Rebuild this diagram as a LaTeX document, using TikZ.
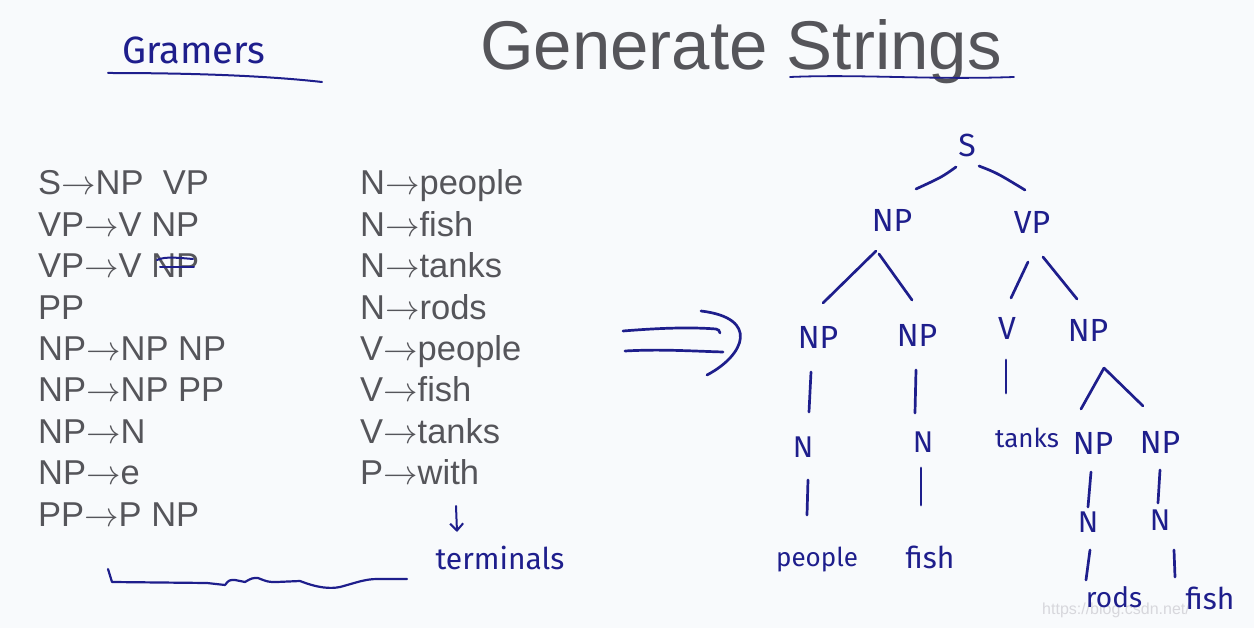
\RequirePackage{fix-cm}
\documentclass[tikz,border=0pt]{standalone}
\usepackage{fontspec}
\setmainfont{Liberation Sans}
\newfontfamily\hand{Fira Sans}
\usetikzlibrary{calc,arrows.meta}
\definecolor{inkblue}{RGB}{30,30,140}
\definecolor{slidegray}{RGB}{85,85,90}
\definecolor{bgc}{RGB}{248,250,252}
\definecolor{wmark}{RGB}{215,215,220}
\newcommand\ra{\ensuremath{\rightarrow}}
\begin{document}
\begin{tikzpicture}[x=1pt,y=-1pt,
  ink/.style={draw=inkblue, line width=2.7pt, line cap=round, line join=round},
  hw/.style={text=inkblue, inner sep=0pt, font=\hand\fontsize{#1}{#1}\selectfont},
  hw/.default=32,
  rulet/.style={text=slidegray, inner sep=0pt, anchor=base west, font=\fontsize{34.5}{40}\selectfont}]
\fill[bgc] (0,0) rectangle (1254,628);
\useasboundingbox (0,0) rectangle (1254,628);

% title
\node[anchor=base west, text=slidegray, inner sep=0pt, font=\fontsize{69}{69}\selectfont] (title) at (480,70) {Generate Strings};
\draw[ink, line width=1.8pt] (790,77) .. controls (860,74) and (930,80) .. (1014,77);

% Gramers heading
\node[hw=38, anchor=base west] (gram) at (122,64) {Gramers};
\draw[ink, line width=2pt] (108,73) .. controls (180,73) and (260,75) .. (322,82);

% grammar rules
\foreach \t [count=\i] in {S\ra NP\ \ VP, VP\ra V NP, VP\ra V NP, PP, NP\ra NP NP, NP\ra NP PP, NP\ra N, NP\ra e, PP\ra P NP}
  \node[rulet] (r\i) at (38,{195+41.4*(\i-1)}) {\t};
\foreach \t [count=\i] in {N\ra people, N\ra fish, N\ra tanks, N\ra rods, V\ra people, V\ra fish, V\ra tanks, P\ra with}
  \node[rulet] (t\i) at (360,{195+41.4*(\i-1)}) {\t};

% strike-through on NP in third rule
\draw[ink, line width=2pt] (157,260) .. controls (165,256) and (180,258) .. (193,259);
\draw[ink, line width=2pt] (160,267) -- (194,267);

% bottom wavy line
\draw[ink, line width=2.2pt] (108,569) -- (112,582) -- (207,583) -- (225,585)
  .. controls (229,580) .. (235,580) -- (245,582) .. controls (252,578) .. (258,578)
  .. controls (268,582) .. (277,582) -- (300,581) .. controls (318,588) and (330,589) .. (340,587)
  .. controls (355,583) and (365,579) .. (377,579) -- (407,579);

% terminals
\node[hw=30] (term) at (500,558) {terminals};
\coordinate (tarr) at (456,506);
\draw[ink, line width=2pt, -{Straight Barb[length=7pt,width=13pt,line width=2pt]}] (tarr) -- (457,532);

% double arrow
\draw[ink] (623,331) .. controls (660,328) and (690,327) .. (716,329) .. controls (719,330) .. (720,333);
\draw[ink] (625,351) .. controls (660,349) and (690,351) .. (723,352);
\draw[ink] (701,311) .. controls (760,318) and (745,355) .. (707,375);

% watermark
\node[text=wmark, anchor=base west, inner sep=0pt, font=\fontsize{16}{16}\selectfont] (wm) at (1042,614) {https://blog.csdn.net/};

% tree nodes
\node[hw] (S) at (967,145) {S};
\node[hw] (NPa) at (892,220) {NP};
\node[hw] (VPa) at (1032,222) {VP};
\node[hw] (NPb) at (818,337) {NP};
\node[hw] (NPc) at (917,335) {NP};
\node[hw] (V) at (1007,328) {V};
\node[hw] (NPd) at (1088,330) {NP};
\node[hw=30] (Nb) at (803,447) {N};
\node[hw=30] (Nc) at (923,442) {N};
\node[hw=26] (tanks) at (1027,438) {tanks};
\node[hw] (NPe) at (1093,443) {NP};
\node[hw] (NPf) at (1160,442) {NP};
\node[hw=30] (Ne) at (1088,522) {N};
\node[hw=30] (Nf) at (1160,520) {N};
\node[hw=26] (people) at (817,560) {people};
\node[hw=30] (fishA) at (930,557) {fish};
\node[hw=28] (rods) at (1114,597) {rods};
\node[hw=30] (fishB) at (1210,598) {fish};

% tree edges
\draw[ink] ($(S)+(-11,22)$) .. controls ($(S)+(-25,32)$) .. ($(NPa)+(24,-31)$);
\draw[ink] ($(S)+(12,21)$) .. controls ($(S)+(30,28)$) .. ($(VPa)+(-7,-32)$);
\draw[ink] ($(NPa)+(-16,31)$) -- ($(NPb)+(5,-34)$);
\draw[ink] ($(NPa)+(-13,34)$) -- ($(NPc)+(-5,-35)$);
\draw[ink] ($(VPa)+(-4,40)$) -- ($(V)+(4,-30)$);
\draw[ink] ($(VPa)+(11,35)$) -- ($(NPd)+(-11,-31)$);
\draw[ink] ($(NPb)+(-7,35)$) -- ($(Nb)+(6,-35)$);
\draw[ink] ($(NPc)+(-1,35)$) -- ($(Nc)+(-8,-29)$);
\draw[ink] ($(V)+(-1,32)$) -- ($(tanks)+(-21,-45)$);
\draw[ink] ($(NPd)+(16,38)$) -- ($(NPe)+(-12,-34)$);
\draw[ink] ($(NPd)+(16,38)$) -- ($(NPf)+(-17,-36)$);
\draw[ink] ($(Nb)+(5,33)$) -- ($(people)+(-10,-45)$);
\draw[ink] ($(Nc)+(-2,26)$) -- ($(fishA)+(-9,-52)$);
\draw[ink] ($(NPe)+(-2,29)$) -- ($(Ne)+(0,-15)$);
\draw[ink] ($(NPf)+(0,28)$) -- ($(Nf)+(-2,-17)$);
\draw[ink] ($(Ne)+(2,28)$) -- ($(rods)+(-28,-17)$);
\draw[ink] ($(Nf)+(14,30)$) -- ($(fishB)+(-35,-21)$);
\end{tikzpicture}
\end{document}
